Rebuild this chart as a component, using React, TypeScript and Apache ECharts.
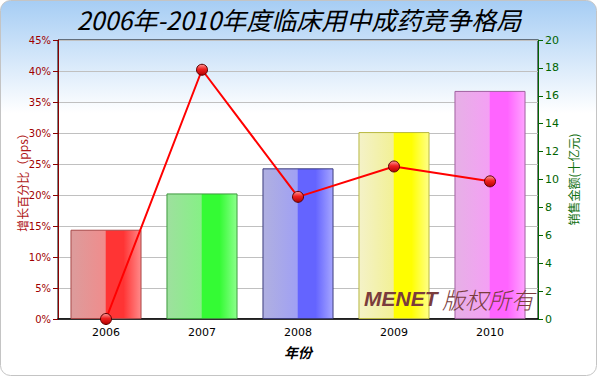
import React, { useEffect, useRef } from "react";
import * as echarts from "echarts";

const years = ["2006", "2007", "2008", "2009", "2010"];
const salesValues = [6.4, 9.0, 10.8, 13.4, 16.35];
const growthValues = [0, 40.2, 19.7, 24.6, 22.2];
const leftTicks = { min: 0, max: 45, interval: 5 };
const rightTicks = { min: 0, max: 20, interval: 2 };

const barPalettes = [
  { a: "#dc9c9c", b: "#f08c8c", c: "#ff3434", d: "#ff8a8a", border: "#a84848" },
  { a: "#9ee09e", b: "#86f086", c: "#34fb34", d: "#8cff8c", border: "#3e9a3e" },
  { a: "#b0b0e0", b: "#a0a0f4", c: "#6464ff", d: "#a6a6ff", border: "#3c3c7c" },
  { a: "#f4f2c8", b: "#f2f096", c: "#ffff00", d: "#ffff88", border: "#b8b840" },
  { a: "#e6b0e6", b: "#f4a0f4", c: "#ff64ff", d: "#ffa4ff", border: "#a060a0" },
];

function barColor(p: any) {
  return new echarts.graphic.LinearGradient(0, 0, 1, 0, [
    { offset: 0, color: p.a },
    { offset: 0.49, color: p.b },
    { offset: 0.5, color: p.c },
    { offset: 0.75, color: p.c },
    { offset: 1, color: p.d },
  ]);
}

export default function App() {
  const ref = useRef<HTMLDivElement>(null);
  useEffect(() => {
    if (!ref.current) return;
    const chart = echarts.init(ref.current, undefined, { renderer: "svg" });
    const option: any = {
      animation: false,
      backgroundColor: "transparent",
      graphic: [
        {
          type: "rect",
          z: -10,
          left: 0,
          top: 0,
          shape: { x: 0, y: 0, width: 596, height: 375, r: 10 },
          style: {
            fill: new echarts.graphic.LinearGradient(0, 0, 0, 1, [
              { offset: 0, color: "#a6cdf4" },
              { offset: 0.3, color: "#ffffff" },
              { offset: 1, color: "#ffffff" },
            ]),
            stroke: "#c4c4c4",
            lineWidth: 1,
          },
        },
        {
          type: "text",
          left: 364,
          top: 288,
          z: 100,
          style: {
            text: "MENET",
            fill: "#7a3c3c",
            font: "italic bold 21px 'Liberation Sans', Arial, sans-serif",
          },
        },
        {
          type: "text",
          left: 442,
          top: 287,
          z: 100,
          style: {
            text: "版权所有",
            fill: "#7a3c3c",
            font: "italic 300 23px 'Noto Sans CJK SC', sans-serif",
          },
        },
      ],
      title: {
        text: "2006年-2010年度临床用中成药竞争格局",
        left: "center",
        top: 1,
        textStyle: {
          fontFamily: "'Noto Sans CJK SC', serif",
          fontStyle: "italic",
          fontWeight: "normal",
          fontSize: 25,
          color: "#000000",
        },
      },
      grid: {
        left: 58,
        right: 60,
        top: 40,
        bottom: 57,
        show: true,
        borderColor: "#000000",
        borderWidth: 1,
        backgroundColor: "transparent",
      },
      xAxis: {
        type: "category",
        data: years,
        name: "年份",
        nameLocation: "middle",
        nameGap: 26,
        nameTextStyle: {
          fontFamily: "'Noto Sans CJK SC', serif",
          fontWeight: "bold",
          fontStyle: "italic",
          fontSize: 14,
          color: "#000",
        },
        axisLine: { lineStyle: { color: "#000", width: 1.5 } },
        axisTick: { alignWithLabel: true, length: 4, lineStyle: { color: "#000" } },
        axisLabel: {
          color: "#000",
          fontSize: 11,
          fontFamily: "'DejaVu Sans', sans-serif",
          margin: 8,
        },
      },
      yAxis: [
        {
          type: "value",
          min: leftTicks.min,
          max: leftTicks.max,
          interval: leftTicks.interval,
          position: "left",
          name: "增长百分比（pps）",
          nameLocation: "middle",
          nameGap: 30,
          nameMoveOverlap: false,
          nameRotate: 90,
          nameTextStyle: {
            color: "#b01818",
            fontSize: 12,
            fontWeight: "normal",
            fontFamily: "'Noto Sans CJK SC', sans-serif",
          },
          axisLine: { show: true, lineStyle: { color: "#8b0000", width: 1 } },
          axisTick: { show: true, length: 5, lineStyle: { color: "#8b0000" } },
          axisLabel: {
            formatter: "{value}%",
            color: "#a00000",
            fontSize: 10,
            fontFamily: "'DejaVu Sans', sans-serif",
            margin: 7,
          },
          splitLine: { show: true, lineStyle: { color: "#c0c0c0", width: 1 } },
        },
        {
          type: "value",
          min: rightTicks.min,
          max: rightTicks.max,
          interval: rightTicks.interval,
          position: "right",
          name: "销售金额(十亿元)",
          nameLocation: "middle",
          nameGap: 29,
          nameMoveOverlap: false,
          nameRotate: 90,
          nameTextStyle: {
            color: "#107010",
            fontSize: 12,
            fontWeight: "normal",
            fontFamily: "'Noto Sans CJK SC', sans-serif",
          },
          axisLine: { show: true, lineStyle: { color: "#006400", width: 1 } },
          axisTick: { show: true, length: 5, lineStyle: { color: "#006400" } },
          axisLabel: {
            color: "#006400",
            fontSize: 11,
            fontFamily: "'DejaVu Sans', sans-serif",
            margin: 7,
          },
          splitLine: { show: false },
        },
      ],
      series: [
        {
          type: "bar",
          yAxisIndex: 1,
          barWidth: "74%",
          data: salesValues.map((v, i) => ({
            value: v,
            itemStyle: {
              color: barColor(barPalettes[i]),
              borderColor: barPalettes[i].border,
              borderWidth: 1,
            },
          })),
          z: 2,
        },
        {
          type: "line",
          yAxisIndex: 0,
          data: growthValues,
          z: 5,
          lineStyle: { color: "#ff0000", width: 2 },
          symbol: "circle",
          symbolSize: 11,
          itemStyle: {
            color: new echarts.graphic.LinearGradient(0, 0, 0, 1, [
              { offset: 0, color: "#ff9a9a" },
              { offset: 0.45, color: "#ee2020" },
              { offset: 1, color: "#b00000" },
            ]),
            borderColor: "#5a0000",
            borderWidth: 1,
          },
        },
      ],
    };
    chart.setOption(option);
    return () => chart.dispose();
  }, []);
  return <div ref={ref} style={{ width: 598, height: 376, position: "absolute", left: 0, top: 0 }} />;
}
